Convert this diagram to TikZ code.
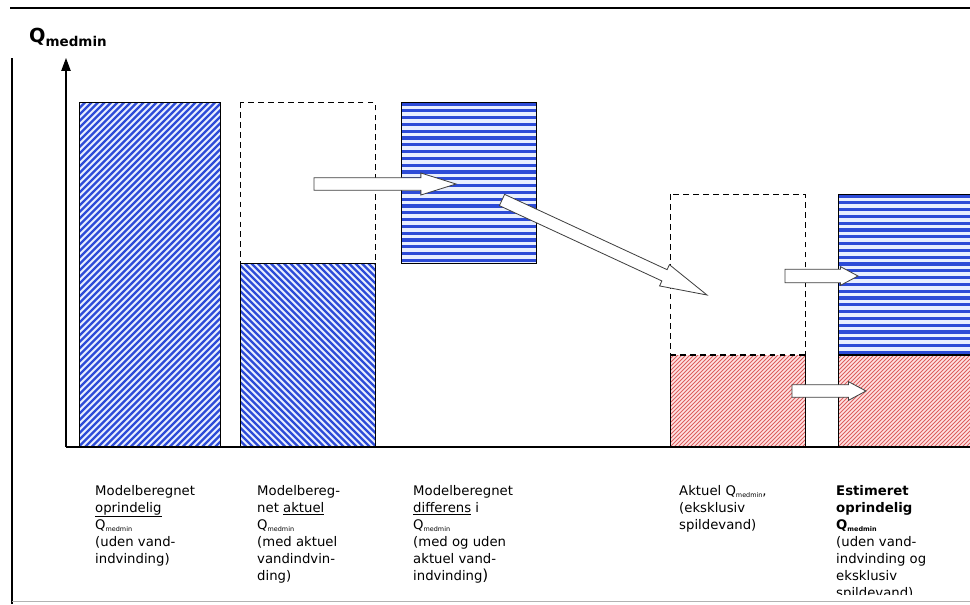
\documentclass[tikz,border=0pt]{standalone}
\usepackage{fontspec}
\setmainfont{DejaVu Sans}
\usetikzlibrary{calc,arrows.meta}
\definecolor{stripeblue}{RGB}{45,75,215}
\definecolor{paleblue}{RGB}{232,238,255}
\definecolor{hatchred}{RGB}{220,95,95}
\definecolor{palered}{RGB}{255,226,226}
\newcommand{\qsub}{Q\raisebox{-0.3ex}{\fontsize{5.5}{6}\selectfont medmin}}
% block arrow: tail, tip, half shaft, half head, head length
\newcommand{\blockarrow}[5]{%
  \coordinate (bah) at ($(#2)!#5!(#1)$);
  \draw[blockarr] ($(#1)!#3!90:(#2)$) -- ($(bah)!#3!-90:(#1)$) -- ($(bah)!#4!-90:(#1)$)
    -- (#2) -- ($(bah)!#4!90:(#1)$) -- ($(bah)!#3!90:(#1)$) -- ($(#1)!#3!-90:(#2)$) -- cycle;}
% hatching inside a box: left, top, right, bottom, spacing, line style
\newcommand{\hatchup}[6]{%
  \begin{scope}
    \clip (#1,#2) rectangle (#3,#4);
    \pgfmathsetmacro\hh{#4-#2}
    \pgfmathtruncatemacro\nn{(#3-#1+\hh)/#5+1}
    \foreach \k in {0,...,\nn} \draw[#6] (#1-\hh+\k*#5,#4) -- ++(\hh+2,-\hh-2);
  \end{scope}}
\newcommand{\hatchdown}[6]{%
  \begin{scope}
    \clip (#1,#2) rectangle (#3,#4);
    \pgfmathsetmacro\hh{#4-#2}
    \pgfmathtruncatemacro\nn{(#3-#1+\hh)/#5+1}
    \foreach \k in {0,...,\nn} \draw[#6] (#1-\hh+\k*#5,#2) -- ++(\hh+2,\hh+2);
  \end{scope}}
\newcommand{\hatchflat}[6]{%
  \begin{scope}
    \clip (#1,#2) rectangle (#3,#4);
    \pgfmathtruncatemacro\nn{(#4-#2)/#5+1}
    \foreach \k in {0,...,\nn} \draw[#6] (#1,#2+2+\k*#5) -- (#3,#2+2+\k*#5);
  \end{scope}}
\tikzset{
  bar/.style={draw=black,line width=0.8pt},
  ghostbar/.style={draw=black,line width=0.8pt,dash pattern=on 5pt off 3.5pt},
  bluestripe/.style={stripeblue,line width=1.9pt},
  flatstripe/.style={stripeblue,line width=2.7pt},
  redstripe/.style={hatchred,line width=0.7pt},
  blockarr/.style={draw=black!75,fill=white,line width=0.7pt,line join=miter},
  caption/.style={anchor=north west,inner sep=0pt,align=left,font=\fontsize{11.3}{14.5}\selectfont}
}
\begin{document}
\begin{tikzpicture}[x=0.03cm,y=-0.03cm]
\useasboundingbox (0,0) rectangle (970,604);
\clip (0,0) rectangle (970,604);
% frame
\draw[line width=1.4pt] (10,8) -- (970,8);
\draw[line width=0.9pt] (12,58) -- (12,604);
\draw[black!30,line width=0.6pt] (12,601) -- (970,601);
% bar 1
\fill[paleblue] (79,102) rectangle (220,447);
\hatchup{79}{102}{220}{447}{6.5}{bluestripe}
\draw[bar] (79,102) rectangle (220,447);
% bar 2
\draw[ghostbar] (240,102) rectangle (375,447);
\fill[paleblue] (240,263) rectangle (375,447);
\hatchdown{240}{263}{375}{447}{6.5}{bluestripe}
\draw[bar] (240,263) rectangle (375,447);
% bar 3
\fill[paleblue] (401,102) rectangle (536,263);
\hatchflat{401}{102}{536}{263}{6.8}{flatstripe}
\draw[bar] (401,102) rectangle (536,263);
% bar 4
\draw[ghostbar] (670,194) rectangle (805,447);
\fill[palered] (670,355) rectangle (805,447);
\hatchup{670}{355}{805}{447}{4}{redstripe}
\draw[bar] (670,447) -- (670,355) (805,355) -- (805,447);
\draw[ghostbar,line width=1.3pt] (670,355) -- (805,355);
% bar 5
\fill[paleblue] (838,194) rectangle (990,355);
\hatchflat{838}{194}{990}{355}{6.8}{flatstripe}
\fill[palered] (838,355) rectangle (990,447);
\hatchup{838}{355}{990}{447}{4}{redstripe}
\draw[bar] (838,194) rectangle (990,447);
\draw[line width=1.4pt] (838,355) -- (990,355);
% axes
\coordinate (origin) at (66,447);
\coordinate (ytop) at (66,58);
\coordinate (xend) at (970,447);
\draw[line width=1.4pt] (origin) -- (xend);
\draw[line width=0.9pt,-{Triangle[width=8pt,length=11pt]}] (origin) -- (ytop);
\node[anchor=base west,inner sep=0pt,font=\bfseries] (qlabel) at (29,42)
  {\fontsize{16.5}{16}\selectfont Q\raisebox{-0.45ex}{\fontsize{11.5}{12}\selectfont medmin}};
% arrows
\coordinate (a1s) at (314,184); \coordinate (a1e) at (456,184);
\coordinate (a2s) at (502,200); \coordinate (a2e) at (707,295);
\coordinate (a3s) at (785,276); \coordinate (a3e) at (858,276);
\coordinate (a4s) at (792,391); \coordinate (a4e) at (866,391);
\blockarrow{a1s}{a1e}{5.3pt}{9.4pt}{30pt}
\blockarrow{a2s}{a2e}{5.3pt}{10pt}{40pt}
\blockarrow{a3s}{a3e}{5.8pt}{8pt}{15pt}
\blockarrow{a4s}{a4e}{5.3pt}{8pt}{15pt}
% captions
\node[caption] (cap1) at (95,485) {Modelberegnet\\\underline{oprindelig}\\\qsub\\(uden vand-\\indvinding)};
\node[caption] (cap2) at (257,485) {Modelbereg-\\net \underline{aktuel}\\\qsub\\(med aktuel\\vandindvin-\\ding)};
\node[caption] (cap3) at (413,485) {Modelberegnet\\\underline{differens} i\\\qsub\\(med og uden\\aktuel vand-\\indvinding{\fontsize{13}{14}\selectfont)}};
\node[caption] (cap4) at (679,485) {Aktuel \qsub,\\(eksklusiv\\spildevand)};
\begin{scope}
\clip (830,470) rectangle (970,594);
\node[caption] (cap5) at (836,485) {\textbf{Estimeret}\\\textbf{oprindelig}\\\textbf{\qsub}\\(uden vand-\\indvinding og\\eksklusiv\\spildevand)};
\end{scope}
\end{tikzpicture}
\end{document}
